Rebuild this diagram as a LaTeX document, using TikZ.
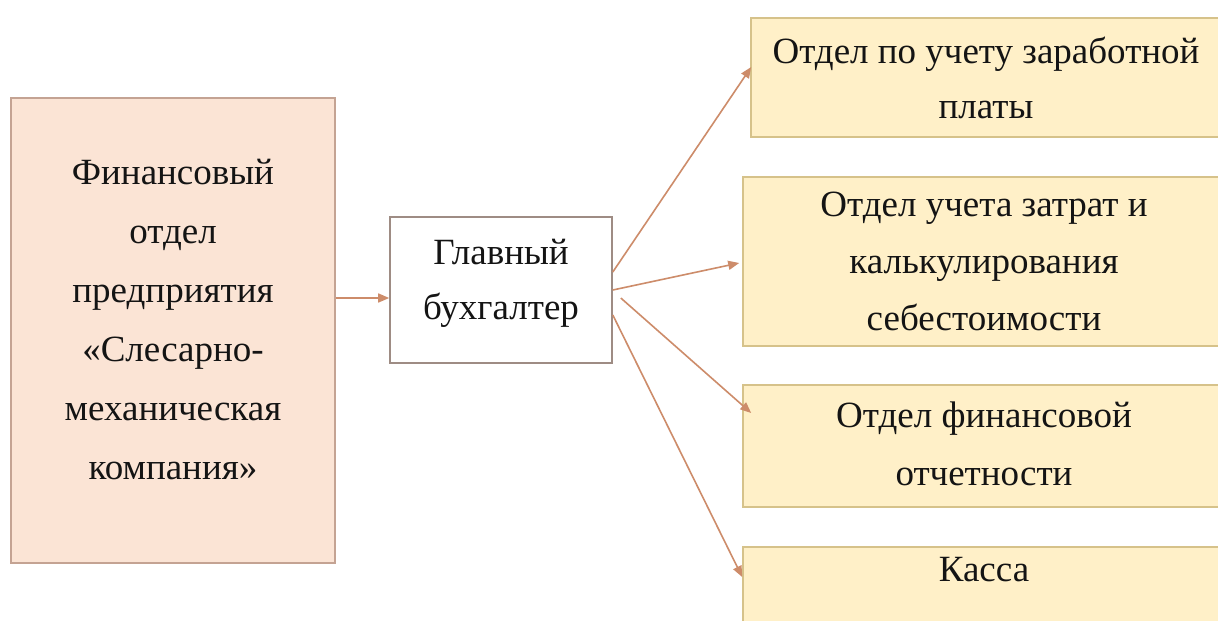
\documentclass[tikz,border=0pt]{standalone}
\usepackage{fontspec}
\setmainfont{Liberation Serif}
\usetikzlibrary{arrows.meta,calc}
\definecolor{leftfill}{HTML}{FBE4D5}
\definecolor{leftdraw}{HTML}{C4A393}
\definecolor{middraw}{HTML}{9E8C84}
\definecolor{rightfill}{HTML}{FFF0C8}
\definecolor{rightdraw}{HTML}{D6C28A}
\definecolor{arrowcol}{HTML}{CD8C6A}
\begin{document}
\begin{tikzpicture}[x=1pt,y=-1pt,
  basebox/.style={draw, line width=1.6pt, inner sep=0pt, align=center, text=black!92},
  lbox/.style={basebox, fill=leftfill, draw=leftdraw, font=\fontsize{37}{59}\selectfont},
  mbox/.style={basebox, fill=white, draw=middraw, font=\fontsize{37}{55}\selectfont},
  rbox/.style={basebox, fill=rightfill, draw=rightdraw},
  conn/.style={draw=arrowcol, line width=1.6pt, -{Triangle[length=11pt,width=9pt]}}]
\fill[white] (0,0) rectangle (1218,621);
\useasboundingbox (0,0) rectangle (1218,621);
\clip (0,0) rectangle (1218,621);

\node[lbox, minimum width=324pt, minimum height=465pt, text depth=22pt] (left) at (173,330.5)
  {Финансовый\\отдел\\предприятия\\«Слесарно-\\механическая\\компания»};
\node[mbox, minimum width=222pt, minimum height=146pt, text depth=22pt] (mid) at (501,290)
  {Главный\\бухгалтер};

\node[rbox, font=\fontsize{37}{55}\selectfont, minimum width=470pt, minimum height=119pt, text depth=0pt] (b1) at (986,77.5)
  {Отдел по учету заработной\\платы};
\node[rbox, font=\fontsize{37}{57}\selectfont, minimum width=482pt, minimum height=169pt, text depth=0pt] (b2) at (984,261.5)
  {Отдел учета затрат и\\калькулирования\\себестоимости};
\node[rbox, font=\fontsize{37}{58}\selectfont, minimum width=482pt, minimum height=122pt, text depth=4pt] (b3) at (984,446)
  {Отдел финансовой\\отчетности};
\node[rbox, font=\fontsize{37}{58}\selectfont, minimum width=482pt, minimum height=113pt, text height=34pt, text depth=79pt] (b4) at (984,603.5)
  {Касса};

\draw[conn] ($(left.east)+(0,-32.5)$) -- ($(mid.west)+(0,8)$);
\draw[conn] ($(mid.east)+(0,-18)$) -- ($(b1.west)+(1,-10.5)$);
\draw[conn] (mid.east) -- ($(b2.west)+(-3,1.5)$);
\draw[conn] ($(mid.east)+(8,8)$) -- ($(b3.west)+(9,-33)$);
\draw[conn] ($(mid.east)+(0,25)$) -- ($(b4.west)+(0,-26.5)$);
\end{tikzpicture}
\end{document}
